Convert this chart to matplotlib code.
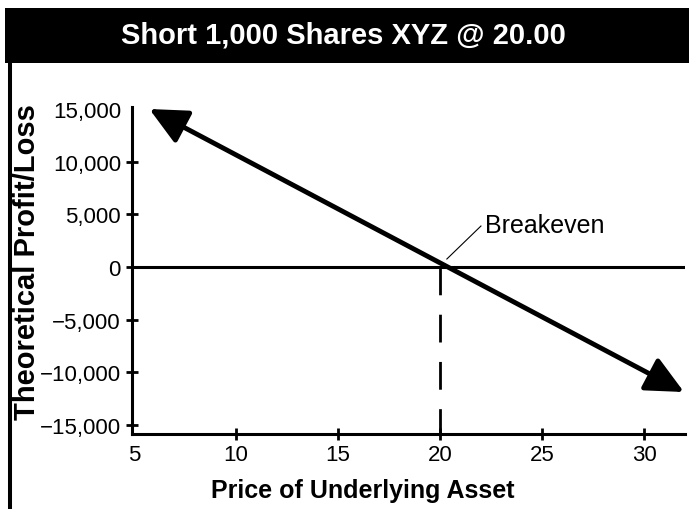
import matplotlib
matplotlib.use('Agg')
import matplotlib.pyplot as plt
from matplotlib.lines import Line2D
from matplotlib.patches import Rectangle

plt.rcParams['font.family'] = ['Liberation Sans', 'DejaVu Sans']

# data
title = "Short 1,000 Shares XYZ @ 20.00"
strike = 20.0
price_ends = [5.75, 31.95]      # arrow tips (price)
pl_ends = [15000, -11870]       # arrow tips (profit/loss)
x_ticks = [5, 10, 15, 20, 25, 30]
y_ticks = [-15000, -10000, -5000, 0, 5000, 10000, 15000]
y_ticklabels = ['\u221215,000', '\u221210,000', '\u22125,000', '0', '5,000', '10,000', '15,000']
breakeven_label = "Breakeven"

fig = plt.figure(figsize=(6.89, 5.10), dpi=100)

# black title bar
fig.patches.append(Rectangle((5 / 689, 1 - 64 / 510), 1 - 5 / 689, 55 / 510,
                             transform=fig.transFigure, facecolor='black',
                             edgecolor='none'))
fig.text(0.498, 1 - 36 / 510, title, color='white', fontsize=21,
         fontweight='bold', ha='center', va='center')
# left border line
fig.lines.append(Line2D([10 / 689, 10 / 689], [0, 1 - 64 / 510],
                        transform=fig.transFigure, color='black', lw=2.9))

ax = fig.add_axes([132 / 689, 1 - 435 / 510, 553 / 689, 327 / 510])
ax.set_xlim(4.9, 32)
ax.set_ylim(-15855, 15190)

for s in ['top', 'right']:
    ax.spines[s].set_visible(False)
for s in ['left', 'bottom']:
    ax.spines[s].set_linewidth(2.2)

ax.set_xticks(x_ticks)
ax.set_yticks(y_ticks)
ax.set_yticklabels(y_ticklabels)
ax.tick_params(direction='inout', length=8, width=2, labelsize=16)
ax.tick_params(axis='y', pad=4)
ax.tick_params(axis='x', pad=3)
ax.yaxis.get_major_ticks()[-1].tick1line.set_visible(False)
ax.xaxis.get_major_ticks()[0].tick1line.set_visible(False)

# zero line
ax.axhline(0, color='black', lw=2.2)

# breakeven dashed line
ax.plot([strike, strike], [0, -15855], color='black', lw=2, dashes=(10, 7),
        clip_on=False)

# P/L arrow
ax.annotate('', xy=(price_ends[0], pl_ends[0]), xytext=(price_ends[1], pl_ends[1]),
            arrowprops=dict(arrowstyle='<|-|>,head_length=1.15,head_width=0.55',
                            lw=3.5, color='black', mutation_scale=20,
                            shrinkA=0, shrinkB=0),
            annotation_clip=False)

# breakeven label with leader
ax.plot([20.33, 22.0], [760, 3890], color='black', lw=0.8)
ax.text(22.2, 3990, breakeven_label, fontsize=18, ha='left', va='center')

fig.text(27 / 689, 1 - 262 / 510, 'Theoretical Profit/Loss', rotation=90,
         fontsize=21, fontweight='bold', ha='center', va='center')
fig.text(363 / 689, 1 - 491 / 510, 'Price of Underlying Asset',
         fontsize=18, fontweight='bold', ha='center', va='center')

fig.savefig('out.png', dpi=100)
